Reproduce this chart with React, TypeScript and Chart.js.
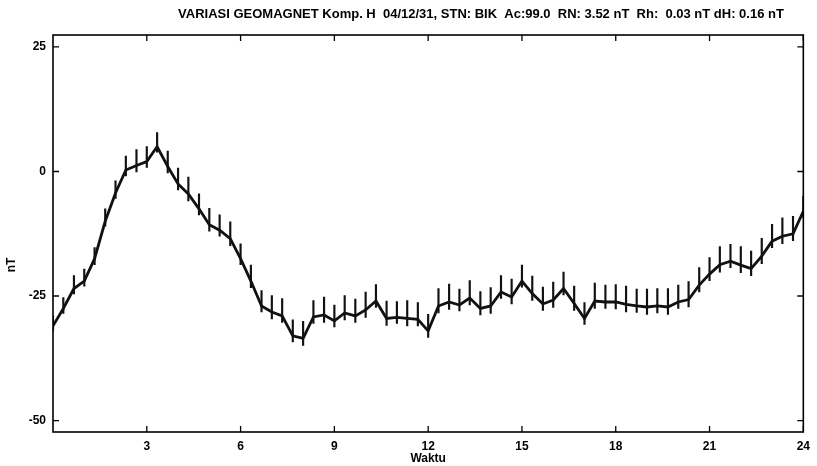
import React, { useEffect, useRef } from 'react';
import { Chart, registerables } from 'chart.js';

Chart.register(...registerables);

const TITLE = 'VARIASI GEOMAGNET Komp. H  04/12/31, STN: BIK  Ac:99.0  RN: 3.52 nT  Rh:  0.03 nT dH: 0.16 nT';
const X_TITLE = 'Waktu';
const Y_TITLE = 'nT';

const X_TICKS = [3, 6, 9, 12, 15, 18, 21, 24];
const Y_TICKS = [-50, -25, 0, 25];

const HOURS = [
  0, 0.33, 0.67, 1, 1.33, 1.67, 2, 2.33, 2.67, 3, 3.33, 3.67,
  4, 4.33, 4.67, 5, 5.33, 5.67, 6, 6.33, 6.67, 7, 7.33, 7.67,
  8, 8.33, 8.67, 9, 9.33, 9.67, 10, 10.33, 10.67, 11, 11.33, 11.67,
  12, 12.33, 12.67, 13, 13.33, 13.67, 14, 14.33, 14.67, 15, 15.33, 15.67,
  16, 16.33, 16.67, 17, 17.33, 17.67, 18, 18.33, 18.67, 19, 19.33, 19.67,
  20, 20.33, 20.67, 21, 21.33, 21.67, 22, 22.33, 22.67, 23, 23.33, 23.67, 24,
];

const H_NT = [
  -31, -27.5, -23.5, -22, -17.5, -10, -4.3, 0.3, 1.2, 2, 5, 1,
  -2.5, -4.5, -7.5, -10.7, -11.8, -13.5, -17.5, -22, -27, -28.2, -29, -33,
  -33.5, -29.2, -28.8, -30, -28.4, -29, -27.8, -26, -29.5, -29.3, -29.5, -29.7,
  -32, -27, -26.2, -26.8, -25.4, -27.5, -27, -24.2, -25.2, -22, -24.5, -26.6,
  -25.8, -23.5, -26.5, -29.5, -26, -26.2, -26.2, -26.7, -27, -27.2, -27, -27.2,
  -26.2, -25.7, -22.8, -20.6, -18.7, -18, -18.8, -19.5, -17, -14, -13, -12.5, -8,
];

const ERR_UP = [
  2.0, 2.2, 2.6, 2.4, 2.2, 2.5, 2.4, 2.8, 3.2, 3.0, 2.8, 3.1,
  3.2, 3.4, 3.0, 3.3, 3.1, 3.4, 3.0, 3.2, 3.1, 3.3, 3.5, 3.2,
  3.4, 3.3, 3.6, 3.2, 3.5, 3.4, 3.6, 3.3, 3.5, 3.2, 3.6, 3.4,
  3.3, 3.5, 3.6, 3.2, 3.5, 3.4, 3.7, 3.3, 3.6, 3.2, 3.5, 3.4,
  3.6, 3.3, 3.5, 3.2, 3.6, 3.4, 3.5, 3.7, 3.4, 3.6, 3.5, 3.7,
  3.4, 3.6, 3.5, 3.3, 3.6, 3.4, 3.7, 3.5, 3.6, 3.4, 3.7, 3.5, 3.0,
];

const ERR_DN = [
  1.0, 1.0, 1.1, 1.0, 1.2, 1.0, 1.1, 1.2, 1.3, 1.2, 1.1, 1.3,
  1.2, 1.4, 1.2, 1.3, 1.2, 1.4, 1.2, 1.3, 1.2, 1.4, 1.3, 1.2,
  1.4, 1.3, 1.5, 1.2, 1.4, 1.3, 1.5, 1.3, 1.4, 1.2, 1.5, 1.3,
  1.3, 1.4, 1.5, 1.2, 1.4, 1.3, 1.5, 1.3, 1.4, 1.2, 1.4, 1.3,
  1.5, 1.3, 1.4, 1.2, 1.5, 1.3, 1.4, 1.5, 1.3, 1.5, 1.4, 1.5,
  1.3, 1.5, 1.4, 1.3, 1.5, 1.3, 1.5, 1.4, 1.5, 1.3, 1.5, 1.4, 1.2,
];

const FONT = '"Liberation Sans", Arial, sans-serif';

const framePlugin = {
  id: 'frame',
  afterDraw(chart: any) {
    const { ctx, chartArea: a, scales } = chart;
    const x = scales.x;
    const y = scales.y;
    ctx.save();
    ctx.strokeStyle = '#000';
    ctx.lineWidth = 1.6;
    ctx.strokeRect(a.left, a.top, a.right - a.left, a.bottom - a.top);
    ctx.lineWidth = 1.3;
    ctx.beginPath();
    X_TICKS.forEach((v) => {
      const px = x.getPixelForValue(v);
      ctx.moveTo(px, a.bottom);
      ctx.lineTo(px, a.bottom - 6);
      ctx.moveTo(px, a.top);
      ctx.lineTo(px, a.top + 6);
    });
    Y_TICKS.forEach((v) => {
      const py = y.getPixelForValue(v);
      ctx.moveTo(a.left, py);
      ctx.lineTo(a.left + 6, py);
      ctx.moveTo(a.right, py);
      ctx.lineTo(a.right - 6, py);
    });
    ctx.stroke();

    ctx.fillStyle = '#000';
    ctx.font = `bold 13px ${FONT}`;
    ctx.textAlign = 'center';
    ctx.textBaseline = 'middle';
    ctx.fillText(TITLE, 481, 14);

    ctx.font = `bold 12px ${FONT}`;
    ctx.translate(12, 265);
    ctx.rotate(-Math.PI / 2);
    ctx.fillText(Y_TITLE, 0, 0);
    ctx.restore();
  },
};

export default function App() {
  const ref = useRef<HTMLCanvasElement | null>(null);

  useEffect(() => {
    if (!ref.current) return;
    const lineData = HOURS.map((h, i) => ({ x: h, y: H_NT[i] }));
    const barData = HOURS.map((h, i) => ({ x: h, y: [H_NT[i] - ERR_DN[i], H_NT[i] + ERR_UP[i]] }));

    const chart = new Chart(ref.current, {
      type: 'line',
      data: {
        datasets: [
          {
            type: 'line',
            data: lineData as any,
            borderColor: '#111',
            borderWidth: 2.8,
            pointRadius: 0,
            tension: 0,
            order: 1,
          },
          {
            type: 'bar',
            data: barData as any,
            backgroundColor: '#111',
            borderWidth: 0,
            barThickness: 1.5,
            order: 2,
          } as any,
        ],
      },
      options: {
        responsive: false,
        animation: false,
        devicePixelRatio: 1,
        layout: { padding: { top: 35, right: 13, bottom: 0, left: 0 } },
        plugins: {
          legend: { display: false },
          tooltip: { enabled: false },
          title: { display: false },
        },
        scales: {
          x: {
            type: 'linear',
            min: 0,
            max: 24,
            offset: false,
            grid: { display: false, drawTicks: false },
            border: { display: false },
            afterBuildTicks: (s: any) => {
              s.ticks = X_TICKS.map((v) => ({ value: v }));
            },
            afterFit: (s: any) => {
              s.height = 34;
            },
            ticks: {
              autoSkip: false,
              maxRotation: 0,
              padding: 7,
              color: '#000',
              font: { family: FONT, size: 12, weight: 'bold' },
            },
            title: {
              display: true,
              text: X_TITLE,
              color: '#000',
              font: { family: FONT, size: 12, weight: 'bold' },
              padding: { top: 0, bottom: 0 },
            },
          },
          y: {
            type: 'linear',
            min: -52.3,
            max: 27.4,
            grid: { display: false, drawTicks: false },
            border: { display: false },
            afterBuildTicks: (s: any) => {
              s.ticks = Y_TICKS.map((v) => ({ value: v }));
            },
            afterFit: (s: any) => {
              s.width = 53;
            },
            ticks: {
              autoSkip: false,
              padding: 7,
              color: '#000',
              font: { family: FONT, size: 12, weight: 'bold' },
            },
          },
        },
      },
      plugins: [framePlugin],
    });
    return () => chart.destroy();
  }, []);

  return (
    <div style={{ position: 'absolute', left: 0, top: 0, width: 817, height: 466, background: '#fff' }}>
      <canvas ref={ref} width={817} height={466} style={{ display: 'block', width: 817, height: 466 }} />
    </div>
  );
}
